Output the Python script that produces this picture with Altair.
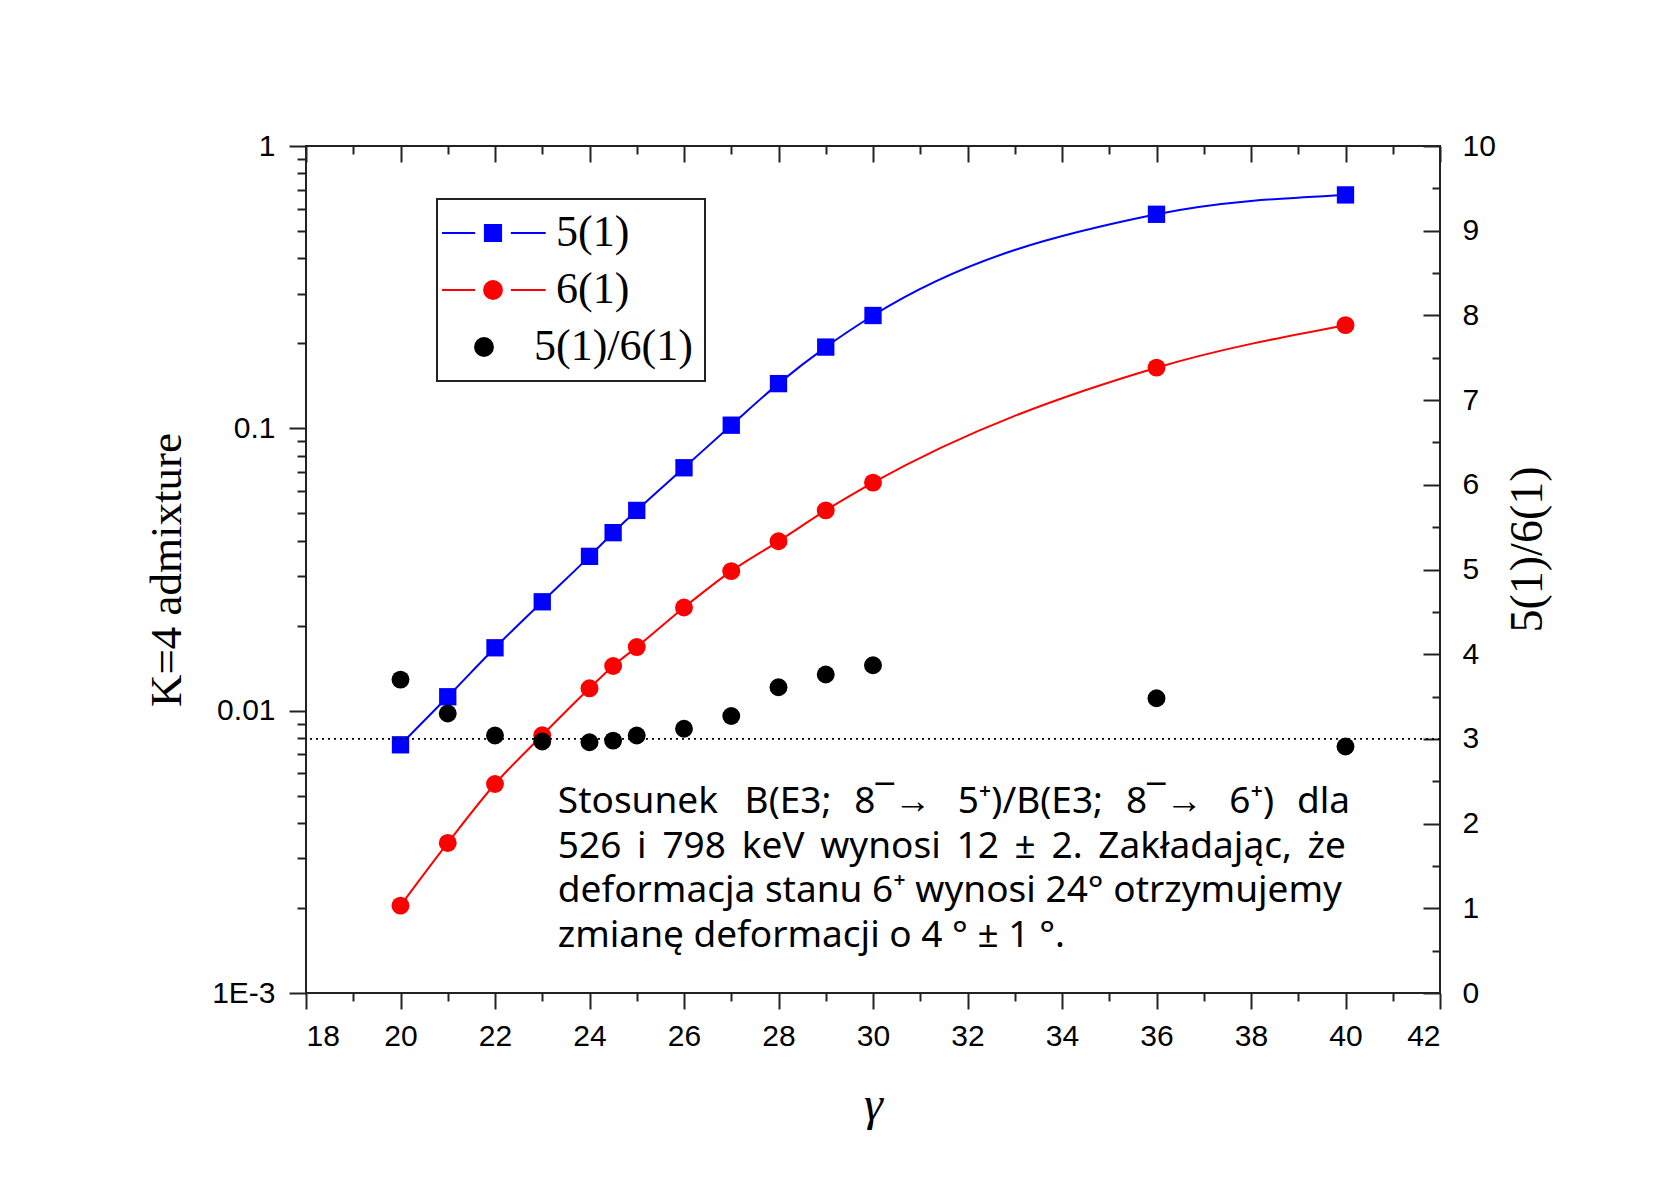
import altair as alt
import pandas as pd

# ---------------- data ----------------
gamma = [20, 21, 22, 23, 24, 24.5, 25, 26, 27, 28, 29, 30, 36, 40]
adm_5_1 = [0.00757, 0.0112, 0.0167, 0.0243, 0.0352, 0.0427, 0.0512, 0.0725,
           0.1026, 0.144, 0.194, 0.251, 0.573, 0.671]
adm_6_1 = [0.00204, 0.0034, 0.0055, 0.00818, 0.0120, 0.0144, 0.0168, 0.0232,
           0.0312, 0.0398, 0.0512, 0.0642, 0.164, 0.232]
ratio_5_6 = [3.70, 3.30, 3.04, 2.97, 2.96, 2.98, 3.04, 3.12, 3.27, 3.61,
             3.76, 3.87, 3.48, 2.91]
reference_ratio = [3]
series_names = ["5(1)", "6(1)", "5(1)/6(1)"]
series_colors = ["#0000ff", "#ff0000", "#000000"]

x_major = list(range(18, 43, 2))
x_minor = list(range(19, 42, 2))
y_major = [0.001, 0.01, 0.1, 1]
y_minor = [m * 10.0 ** e for e in (-3, -2, -1) for m in range(2, 10)]
r_major = list(range(0, 11))
r_minor = [i + 0.5 for i in range(10)]

NB = "\u00a0"
HAIR = "\u200a"
THIN = "\u2009"


def spaced(words, gaps):
    out = words[0]
    for w, g in zip(words[1:], gaps):
        out += g + w
    return out


G1a, G1b = NB + NB + HAIR + HAIR, NB + NB + HAIR
note_lines = [
    spaced(["Stosunek", "B(E3;", "8¯→", "5⁺)/B(E3;", "8¯→", "6⁺)", "dla"],
           [G1a, G1b, G1a, G1b, G1a, G1b]),
    (NB + THIN).join(["526", "i", "798", "keV", "wynosi", "12", "±", "2.", "Zakładając,", "że"]),
    NB.join(["deformacja", "stanu", "6⁺", "wynosi", "24°", "otrzymujemy"]),
    "zmianę deformacji o 4 ° ± 1 °.",
]

# ---------------- layout constants ----------------
W, H = 1134, 847
PAD = {"left": 306, "top": 146, "right": 229, "bottom": 185}

df = pd.DataFrame({"gamma": gamma, "a5": adm_5_1, "a6": adm_6_1, "ratio": ratio_5_6})
long_df = pd.concat([
    pd.DataFrame({"gamma": gamma, "value": adm_5_1, "series": series_names[0]}),
    pd.DataFrame({"gamma": gamma, "value": adm_6_1, "series": series_names[1]}),
])
one = pd.DataFrame({"k": [0]})
rule_df = pd.DataFrame({"level": reference_ratio})

xs = alt.Scale(domain=[18, 42], nice=False, zero=False)
ys = alt.Scale(type="log", domain=[0.001, 1], nice=False)
rs = alt.Scale(domain=[0, 10], nice=False, zero=False)

SANS = "Liberation Sans"
SERIF = "Liberation Serif"
tick_common = dict(domain=False, grid=False, tickColor="#222", tickWidth=2)

ax_bottom = alt.Axis(orient="bottom", values=x_major, tickSize=16, labelPadding=12,
                     labelFont=SANS, labelFontSize=30, labelColor="black", format="d",
                     title="γ", titleFont=SERIF, titleFontStyle="italic", titleFontSize=48,
                     titleFontWeight="normal", titleColor="black", titlePadding=30, **tick_common)
ax_bottom_minor = alt.Axis(orient="bottom", values=x_minor, tickSize=8, labels=False,
                           title=None, **tick_common)
ax_top = alt.Axis(orient="bottom", offset=-H, values=x_major, tickSize=16, labels=False,
                  title=None, **tick_common)
ax_top_minor = alt.Axis(orient="bottom", offset=-H, values=x_minor, tickSize=8, labels=False,
                        title=None, **tick_common)

ax_left = alt.Axis(orient="left", values=y_major, tickSize=17, labelPadding=14,
                   labelFont=SANS, labelFontSize=30, labelColor="black", format="~g",
                   labelExpr="datum.value < 0.002 ? '1E-3' : datum.label",
                   title="K=4 admixture", titleFont=SERIF, titleFontSize=45,
                   titleFontWeight="normal", titleColor="black", titlePadding=22, **tick_common)
ax_left_minor = alt.Axis(orient="left", values=y_minor, tickSize=9, labels=False,
                         title=None, **tick_common)

ax_right = alt.Axis(orient="right", values=r_major, ticks=False, tickSize=0, labelPadding=22,
                    labelFont=SANS, labelFontSize=30, labelColor="black", format="d",
                    title="5(1)/6(1)", titleFont=SERIF, titleFontSize=46, titleAngle=270,
                    titleFontWeight="normal", titleColor="black", titlePadding=56,
                    titleY=403, domain=False, grid=False)
ax_right_ticks = alt.Axis(orient="left", offset=-W, values=r_major, tickSize=17, labels=False,
                          title=None, **tick_common)
ax_right_minor = alt.Axis(orient="left", offset=-W, values=r_minor, tickSize=8, labels=False,
                          title=None, **tick_common)

# ---------------- left (log) group ----------------
blue_line = alt.Chart(df).mark_line(color="#0000ff", strokeWidth=2, interpolate="monotone").encode(
    x=alt.X("gamma:Q", scale=xs, axis=ax_bottom),
    y=alt.Y("a5:Q", scale=ys, axis=ax_left),
)
red_line = alt.Chart(df).mark_line(color="#ff0000", strokeWidth=2, interpolate="monotone").encode(
    x=alt.X("gamma:Q", scale=xs, axis=ax_bottom_minor),
    y=alt.Y("a6:Q", scale=ys, axis=ax_left_minor),
)
blue_pts = alt.Chart(df).mark_point(shape="square", filled=True, size=300, color="#0000ff",
                                    opacity=1).encode(
    x=alt.X("gamma:Q", scale=xs, axis=ax_top),
    y=alt.Y("a5:Q", scale=ys, axis=None),
)
red_pts = alt.Chart(df).mark_point(shape="circle", filled=True, size=320, color="#ff0000",
                                   opacity=1).encode(
    x=alt.X("gamma:Q", scale=xs, axis=ax_top_minor),
    y=alt.Y("a6:Q", scale=ys, axis=None),
)

legend_paths = [
    "M-6,0H-2.1M-0.95,-0.95H0.95V0.95H-0.95ZM2.1,0H6.2",
    "M-6,0H-2.1M-1.05,0A1.05,1.05,0,1,0,1.05,0A1.05,1.05,0,1,0,-1.05,0ZM2.1,0H6.2",
    "M-2.11,0A1.05,1.05,0,1,0,-0.01,0A1.05,1.05,0,1,0,-2.11,0Z",
]
leg = alt.Legend(orient="none", legendX=131, legendY=53, title=None, padding=12,
                 rowPadding=13, labelFont=SERIF, labelFontSize=44, labelColor="black",
                 labelOffset=19, labelLimit=500, symbolSize=289, symbolStrokeWidth=2,
                 symbolOpacity=1, symbolOffset=22, strokeColor="#222",
                 labelExpr="(datum.value == '5(1)/6(1)' ? '' : '\u200b\u2002') + datum.label")
legend_layer = alt.Chart(long_df).mark_point(filled=True, opacity=0).encode(
    x=alt.X("gamma:Q", scale=xs, axis=None),
    y=alt.Y("value:Q", scale=ys, axis=None),
    fill=alt.Fill("series:N", scale=alt.Scale(domain=series_names, range=series_colors), legend=leg),
    stroke=alt.Stroke("series:N", scale=alt.Scale(domain=series_names, range=series_colors), legend=leg),
    shape=alt.Shape("series:N", scale=alt.Scale(domain=series_names, range=legend_paths), legend=leg),
)

left = alt.layer(blue_line, red_line, blue_pts, red_pts, legend_layer).resolve_axis(
    x="independent", y="independent")

# ---------------- right (linear ratio) group ----------------
ratio_pts = alt.Chart(df).mark_point(shape="circle", filled=True, size=320, color="black",
                                     opacity=1).encode(
    x=alt.X("gamma:Q", scale=xs, axis=None),
    y=alt.Y("ratio:Q", scale=rs, axis=ax_right),
)
ref_rule = alt.Chart(rule_df).mark_rule(color="black", strokeDash=[2, 4], strokeWidth=1.6).encode(
    y=alt.Y("level:Q", scale=rs, axis=ax_right_ticks),
)
note = alt.Chart(one).mark_text(text=note_lines, align="left", baseline="alphabetic",
                                font="Noto Sans", fontSize=37, lineHeight=44.5,
                                color="black").encode(
    x=alt.X(datum=23.33, type="quantitative", scale=xs, axis=None),
    y=alt.Y(datum=2.12, type="quantitative", scale=rs, axis=ax_right_minor),
)
right = alt.layer(ratio_pts, ref_rule, note).resolve_axis(x="independent", y="independent")

chart = alt.layer(left, right).resolve_scale(y="independent").resolve_axis(
    x="independent", y="independent").properties(
    width=W, height=H, padding=PAD, autosize=alt.AutoSizeParams(type="none"),
    background="white",
).configure_view(stroke="#222", strokeWidth=2).configure_legend(strokeWidth=2)

chart.save("out.html", embed_options={"renderer": "svg", "actions": False})
